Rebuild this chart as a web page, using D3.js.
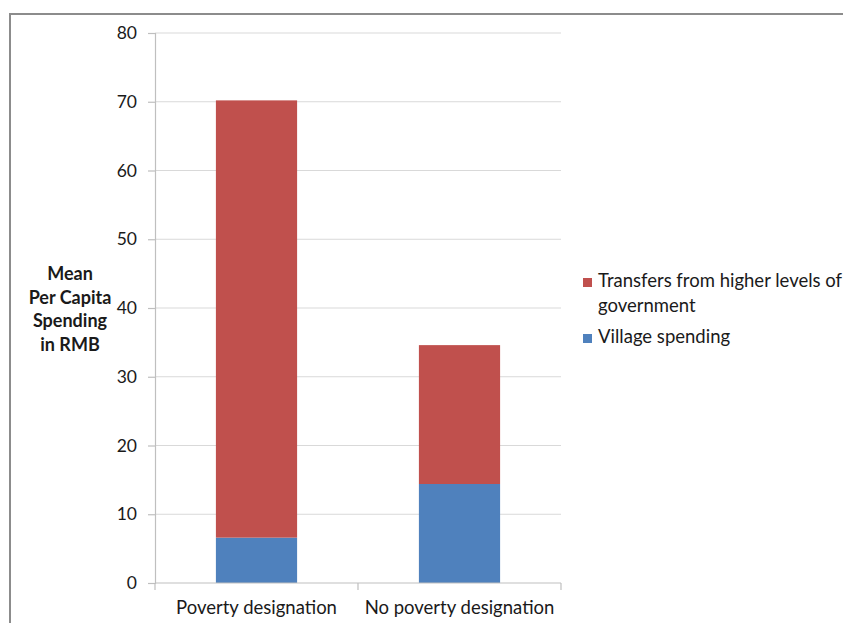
<!DOCTYPE html>
<html>
<head>
<meta charset="utf-8">
<script src="https://cdn.jsdelivr.net/npm/d3@7"></script>
<style>
  html, body { margin: 0; padding: 0; background: #fff; }
  svg { display: block; }
  text { font-family: Lato, "Open Sans", sans-serif; fill: #1a1a1a; }
</style>
</head>
<body>
<svg id="chart" width="843" height="623"></svg>
<script>
// Mean per capita spending (RMB), split by source
const categories = ["Poverty designation", "No poverty designation"];
const villageSpending = [6.6, 14.4];
const transfers = [63.6, 20.2];
const seriesNames = ["Village spending", "Transfers from higher levels of government"];
const seriesColors = ["#4F81BD", "#C0504D"];
const yTicks = [0, 10, 20, 30, 40, 50, 60, 70, 80];
const yTitleLines = ["Mean", "Per Capita", "Spending", "in RMB"];

const svg = d3.select("#chart");

// outer frame
svg.append("rect")
  .attr("x", 10).attr("y", 14)
  .attr("width", 900).attr("height", 700)
  .attr("fill", "none").attr("stroke", "#8c8c8c").attr("stroke-width", 2);

const plot = { left: 155, right: 561, top: 33, bottom: 583 };

const x = d3.scaleBand().domain(categories)
  .range([plot.left, plot.right]).paddingInner(0.6).paddingOuter(0.3);
const y = d3.scaleLinear().domain([0, 80]).range([plot.bottom, plot.top]);

// gridlines
svg.append("g").selectAll("line").data(yTicks.filter(d => d > 0)).join("line")
  .attr("x1", plot.left).attr("x2", plot.right)
  .attr("y1", d => y(d)).attr("y2", d => y(d))
  .attr("stroke", "#d9d9d9").attr("stroke-width", 1.2);

// stacked data
const rows = categories.map((c, i) => ({ cat: c, village: villageSpending[i], transfers: transfers[i] }));
const stack = d3.stack().keys(["village", "transfers"])(rows);

svg.append("g").selectAll("g").data(stack).join("g")
  .attr("fill", (d, i) => seriesColors[i])
  .selectAll("rect").data(d => d).join("rect")
  .attr("x", d => x(d.data.cat))
  .attr("width", x.bandwidth())
  .attr("y", d => y(d[1]))
  .attr("height", d => y(d[0]) - y(d[1]));

// y axis
const yAxis = svg.append("g")
  .attr("transform", `translate(${plot.left},0)`)
  .call(d3.axisLeft(y).tickValues(yTicks).tickSize(7).tickPadding(11));
yAxis.select(".domain").attr("stroke", "#bfbfbf").attr("stroke-width", 1.2);
yAxis.selectAll(".tick line").attr("stroke", "#bfbfbf").attr("stroke-width", 1.2);
yAxis.selectAll(".tick text")
  .style("font-family", "Lato, sans-serif").style("font-size", "17.5px").attr("fill", "#1a1a1a");

// x axis: base line with ticks at category boundaries
const xg = svg.append("g");
xg.append("line")
  .attr("x1", plot.left).attr("x2", plot.right)
  .attr("y1", plot.bottom).attr("y2", plot.bottom)
  .attr("stroke", "#bfbfbf").attr("stroke-width", 1.2);
const bounds = [plot.left, plot.left + (plot.right - plot.left) / 2, plot.right];
xg.selectAll("line.tk").data(bounds).join("line").attr("class", "tk")
  .attr("x1", d => d).attr("x2", d => d)
  .attr("y1", plot.bottom).attr("y2", plot.bottom + 7)
  .attr("stroke", "#bfbfbf").attr("stroke-width", 1.2);
xg.selectAll("text").data(categories).join("text")
  .attr("x", d => x(d) + x.bandwidth() / 2)
  .attr("y", 614)
  .attr("text-anchor", "middle")
  .style("font-size", "18.5px")
  .text(d => d);

// y axis title
svg.append("text")
  .attr("x", 70).attr("y", 280)
  .attr("text-anchor", "middle")
  .style("font-size", "18px").style("font-weight", "bold")
  .selectAll("tspan").data(yTitleLines).join("tspan")
  .attr("x", 70).attr("dy", (d, i) => i === 0 ? 0 : 23.5)
  .text(d => d);

// legend (transfers first, as in the stack from top)
const legendItems = [
  { name: ["Transfers from higher levels of", "government"], color: seriesColors[1], y: 278 },
  { name: ["Village spending"], color: seriesColors[0], y: 334 }
];
const lg = svg.append("g");
legendItems.forEach(item => {
  lg.append("rect").attr("x", 583).attr("y", item.y).attr("width", 9).attr("height", 9)
    .attr("fill", item.color);
  const t = lg.append("text").attr("x", 598).attr("y", item.y + 9)
    .style("font-size", "18.5px");
  t.selectAll("tspan").data(item.name).join("tspan")
    .attr("x", 598).attr("dy", (d, i) => i === 0 ? 0 : 25)
    .text(d => d);
});
</script>
</body>
</html>
